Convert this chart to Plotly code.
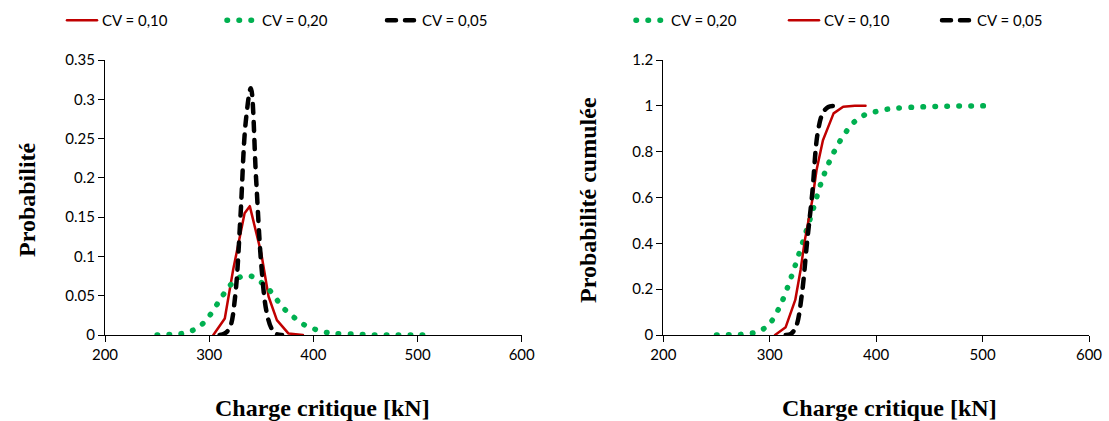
import plotly.graph_objects as go

# ---- data: probability density (left) ----
x_cv10_pdf = [304, 315, 323, 334, 339, 350, 357, 365, 376, 390]
y_cv10_pdf = [0.0, 0.021, 0.083, 0.155, 0.164, 0.104, 0.049, 0.019, 0.002, 0.0]

x_cv20 = [250, 260, 270, 280, 290, 300, 310, 320, 330, 340, 350, 360, 370, 380, 390,
          400, 410, 420, 440, 460, 480, 510]
y_cv20_pdf = [0.0, 0.0005, 0.001, 0.004, 0.01, 0.024, 0.044, 0.063, 0.074, 0.075, 0.067,
              0.054, 0.036, 0.024, 0.014, 0.008, 0.004, 0.002, 0.001, 0.0, 0.0, 0.0]

x_cv05_pdf = [310, 315, 320, 325, 330, 335, 340, 345, 350, 355, 360, 365, 370]
y_cv05_pdf = [0.0, 0.002, 0.01, 0.05, 0.15, 0.27, 0.314, 0.2, 0.09, 0.03, 0.008, 0.001, 0.0]

# ---- data: cumulative probability (right) ----
x_cv20_cdf = [250, 260, 270, 280, 290, 300, 310, 320, 330, 340, 350, 360, 370, 380, 390,
              400, 410, 420, 440, 460, 480, 505]
y_cv20_cdf = [0.0, 0.001, 0.002, 0.006, 0.016, 0.05, 0.13, 0.25, 0.39, 0.537, 0.687, 0.795,
              0.875, 0.932, 0.962, 0.975, 0.985, 0.99, 0.995, 0.998, 0.999, 1.0]

x_cv10_cdf = [305, 315, 324, 329, 333, 340, 344, 350, 360, 369, 380, 390]
y_cv10_cdf = [0.0, 0.034, 0.153, 0.284, 0.414, 0.589, 0.72, 0.85, 0.967, 0.996, 1.0, 1.0]

x_cv05_cdf = [315, 320, 325, 330, 335, 340, 345, 350, 355, 360, 365]
y_cv05_cdf = [0.0, 0.005, 0.04, 0.17, 0.40, 0.62, 0.88, 0.97, 0.995, 1.0, 1.0]

x_ticks = [200, 300, 400, 500, 600]
y_ticks_pdf = [0, 0.05, 0.1, 0.15, 0.2, 0.25, 0.3, 0.35]
y_ticks_cdf = [0, 0.2, 0.4, 0.6, 0.8, 1.0, 1.2]

RED = "#C00000"
GREEN = "#00B050"
BLACK = "#000000"
DOT = "0.5px,11.5px"
DASH = "9px,9px"

W, H = 1109, 421
def fx(px):
    return px / W
def fy(py):
    return (H - py) / H

fig = go.Figure()

# left chart traces
fig.add_trace(go.Scatter(x=x_cv10_pdf, y=y_cv10_pdf, mode="lines", name="CV = 0,10",
                         line=dict(color=RED, width=2.5), xaxis="x", yaxis="y", legend="legend"))
fig.add_trace(go.Scatter(x=x_cv20, y=y_cv20_pdf, mode="lines", name="CV = 0,20",
                         line=dict(color=GREEN, width=5.5, dash=DOT, shape="spline"),
                         xaxis="x", yaxis="y", legend="legend"))
fig.add_trace(go.Scatter(x=x_cv05_pdf, y=y_cv05_pdf, mode="lines", name="CV = 0,05",
                         line=dict(color=BLACK, width=4.5, dash=DASH, shape="spline"),
                         xaxis="x", yaxis="y", legend="legend"))

# right chart traces
fig.add_trace(go.Scatter(x=x_cv20_cdf, y=y_cv20_cdf, mode="lines", name="CV = 0,20",
                         line=dict(color=GREEN, width=5.5, dash=DOT, shape="spline"),
                         xaxis="x2", yaxis="y2", legend="legend2"))
fig.add_trace(go.Scatter(x=x_cv10_cdf, y=y_cv10_cdf, mode="lines", name="CV = 0,10",
                         line=dict(color=RED, width=2.5), xaxis="x2", yaxis="y2", legend="legend2"))
fig.add_trace(go.Scatter(x=x_cv05_cdf, y=y_cv05_cdf, mode="lines", name="CV = 0,05",
                         line=dict(color=BLACK, width=4.5, dash=DASH, shape="spline"),
                         xaxis="x2", yaxis="y2", legend="legend2"))

TICKFONT = dict(family="Lato, 'Open Sans', sans-serif", size=15, color="#000000")
axis_common = dict(showgrid=False, zeroline=False, showline=True, linecolor="#000000",
                   linewidth=1, ticks="outside", ticklen=6, tickcolor="#000000",
                   tickwidth=1, tickfont=TICKFONT, fixedrange=True, automargin=False)

LEGFONT = dict(family="Lato, 'Open Sans', sans-serif", size=15, color="#000000")
fig.update_layout(
    width=W, height=H,
    margin=dict(l=0, r=0, t=0, b=0, autoexpand=False),
    paper_bgcolor="white", plot_bgcolor="white",
    xaxis=dict(domain=[fx(105), fx(521.7)], range=[200, 600], tickvals=x_ticks,
               anchor="y", **axis_common),
    yaxis=dict(domain=[fy(335), fy(60)], range=[0, 0.35], tickvals=y_ticks_pdf,
               ticktext=[f"{v:g}" for v in y_ticks_pdf], anchor="x", **axis_common),
    xaxis2=dict(domain=[fx(663.3), fx(1089)], range=[200, 600], tickvals=x_ticks,
                anchor="y2", **axis_common),
    yaxis2=dict(domain=[fy(335), fy(60)], range=[0, 1.2], tickvals=y_ticks_cdf,
                ticktext=[f"{v:g}" for v in y_ticks_cdf], anchor="x2", **axis_common),
    legend=dict(orientation="h", x=fx(62), y=fy(4), xanchor="left", yanchor="top",
                entrywidth=115, entrywidthmode="pixels", font=LEGFONT,
                bgcolor="rgba(0,0,0,0)", tracegroupgap=0, itemclick=False),
    legend2=dict(orientation="h", x=fx(631), y=fy(4), xanchor="left", yanchor="top",
                 entrywidth=108, entrywidthmode="pixels", font=LEGFONT,
                 bgcolor="rgba(0,0,0,0)", tracegroupgap=0, itemclick=False),
    showlegend=True,
)

TITLEFONT = dict(family="'Liberation Serif', 'Times New Roman', serif", size=24, color="#000000")
annots = [
    dict(text="<b>Charge critique [kN]</b>", x=fx(322), y=fy(408)),
    dict(text="<b>Charge critique [kN]</b>", x=fx(889), y=fy(408)),
    dict(text="<b>Probabilité</b>", x=fx(27), y=fy(200), textangle=-90),
    dict(text="<b>Probabilité cumulée</b>", x=fx(588), y=fy(200), textangle=-90),
]
for a in annots:
    fig.add_annotation(xref="paper", yref="paper", showarrow=False, font=TITLEFONT,
                       xanchor="center", yanchor="middle", **a)

post = """
document.body.style.margin = '0';
document.body.style.padding = '0';
var gd = document.getElementById('{plot_id}');
function fixCaps(){
  gd.querySelectorAll('path.js-line').forEach(function(p){
    p.style.strokeLinecap = 'round';
    p.style.strokeLinejoin = 'round';
  });
}
fixCaps();
if (gd.on) { gd.on('plotly_afterplot', fixCaps); }
"""

fig.write_html("out.html", post_script=post, config={"displayModeBar": False})
